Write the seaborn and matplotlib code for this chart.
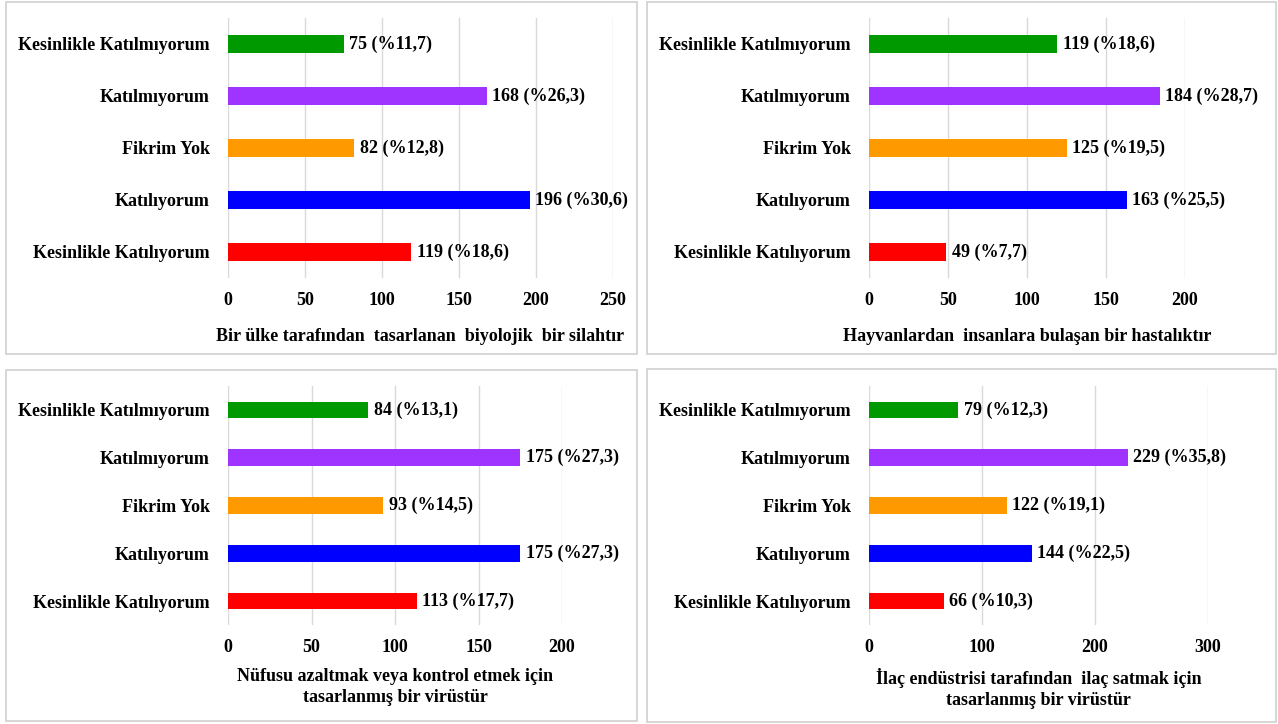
import matplotlib
matplotlib.use("Agg")
import matplotlib.pyplot as plt
from matplotlib.patches import Rectangle
import seaborn as sns

# Response categories (top to bottom) and their bar colours
categories = ["Kesinlikle Katılmıyorum", "Katılmıyorum", "Fikrim Yok",
              "Katılıyorum", "Kesinlikle Katılıyorum"]
colors = ["#009900", "#9f33ff", "#ff9900", "#0000ff", "#ff0000"]

# Counts and percentages for each statement
counts_1 = [75, 168, 82, 196, 119]
pcts_1 = [11.7, 26.3, 12.8, 30.6, 18.6]
counts_2 = [119, 184, 125, 163, 49]
pcts_2 = [18.6, 28.7, 19.5, 25.5, 7.7]
counts_3 = [84, 175, 93, 175, 113]
pcts_3 = [13.1, 27.3, 14.5, 27.3, 17.7]
counts_4 = [79, 229, 122, 144, 66]
pcts_4 = [12.3, 35.8, 19.1, 22.5, 10.3]

titles = [
    "Bir ülke tarafından  tasarlanan  biyolojik  bir silahtır",
    "Hayvanlardan  insanlara bulaşan bir hastalıktır",
    "Nüfusu azaltmak veya kontrol etmek için\ntasarlanmış bir virüstür",
    "İlaç endüstrisi tarafından  ilaç satmak için\ntasarlanmış bir virüstür",
]
x_ticks = [
    [0, 50, 100, 150, 200, 250],
    [0, 50, 100, 150, 200],
    [0, 50, 100, 150, 200],
    [0, 100, 200, 300],
]

W, H = 1278, 724
plt.rcParams["font.family"] = ["Liberation Serif", "DejaVu Serif"]
plt.rcParams["font.weight"] = "bold"
FS = 13

fig = plt.figure(figsize=(W / 100, H / 100), dpi=100)
fig.patch.set_facecolor("white")

# panel frames in pixels: (left, top, right, bottom)
frames = [(6, 2, 637, 354), (647, 2, 1276, 354),
          (6, 370, 637, 721), (647, 369, 1276, 722)]
# axes areas in pixels: (left, top, right, bottom)
areas = [(228, 18, 613, 278), (869, 18, 1185, 278),
         (228, 386, 562, 625), (869, 386, 1208, 625)]

for (l, t, r, b) in frames:
    fig.patches.append(Rectangle((l / W, 1 - b / H), (r - l) / W, (b - t) / H,
                                 transform=fig.transFigure, fill=False,
                                 edgecolor="#d0d0d0", linewidth=1.2))

data = [(counts_1, pcts_1), (counts_2, pcts_2), (counts_3, pcts_3), (counts_4, pcts_4)]

for i, ((counts, pcts), (l, t, r, b)) in enumerate(zip(data, areas)):
    ax = fig.add_axes([l / W, 1 - b / H, (r - l) / W, (b - t) / H])
    sns.barplot(x=counts, y=categories, hue=categories, hue_order=categories,
                palette=colors, saturation=1, orient="h", width=0.35,
                legend=False, linewidth=0, ax=ax)
    for cont, c, p in zip(ax.containers, counts, pcts):
        ax.bar_label(cont, labels=[f"{c} (%{p:.1f})".replace(".", ",")],
                     padding=4, fontsize=FS, fontweight="bold")
    ticks = x_ticks[i]
    ax.set_xlim(0, ticks[-1])
    ax.set_xticks(ticks)
    ax.set_ylim(4.5, -0.5)
    ax.grid(axis="x", color="#d9d9d9", linewidth=1)
    ax.set_axisbelow(True)
    for s in ax.spines.values():
        s.set_visible(False)
    ax.tick_params(length=0, labelsize=FS)
    ax.tick_params(axis="x", pad=10)
    ax.tick_params(axis="y", pad=13)
    for lab in ax.get_xticklabels() + ax.get_yticklabels():
        lab.set_fontweight("bold")
    ax.set_ylabel("")
    ax.set_xlabel(titles[i], fontsize=FS, fontweight="bold",
                  labelpad=14 if i < 2 else 9, linespacing=1.3)

fig.savefig("out.png", dpi=100, facecolor="white")
